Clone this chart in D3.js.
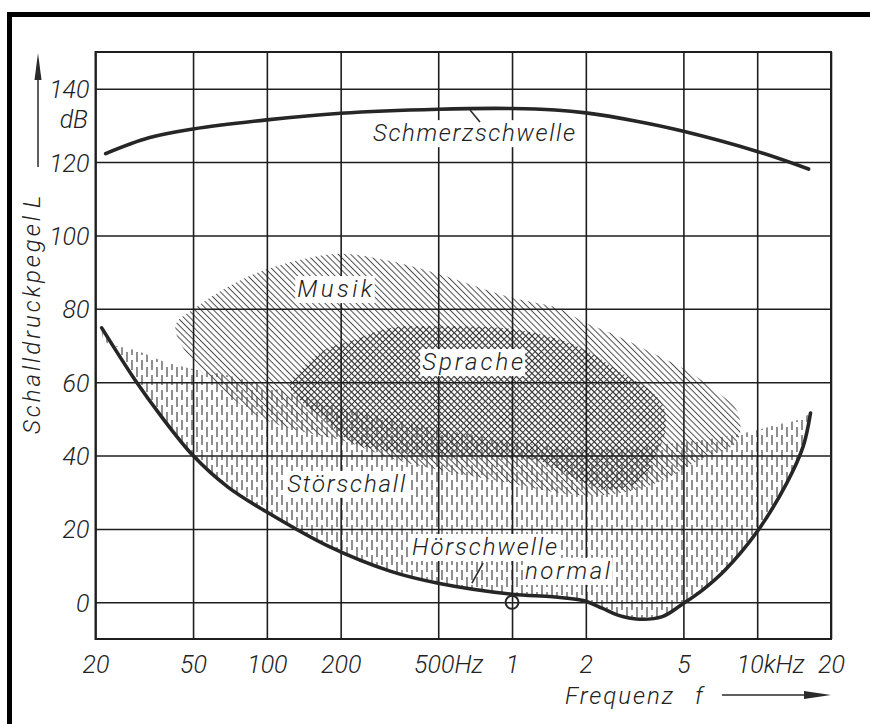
<!DOCTYPE html>
<html>
<head>
<meta charset="utf-8">
<script src="https://cdn.jsdelivr.net/npm/d3@7"></script>
<style>
  html, body { margin: 0; padding: 0; background: #fff; }
  svg { display: block; }
  .lbl { font-family: Roboto, "Open Sans", sans-serif; font-style: italic; font-weight: 300; fill: #222; }
</style>
</head>
<body>
<svg id="chart" width="870" height="724"></svg>
<script>
// ---------- data ----------
const freqTicks = [20, 50, 100, 200, 500, 1000, 2000, 5000, 10000, 20000];
const freqTickLabels = ["20", "50", "100", "200", "500Hz", "1", "2", "5", "10kHz", "20"];
const levelTicks = [0, 20, 40, 60, 80, 100, 120, 140];
const levelTickLabels = ["0", "20", "40", "60", "80", "100", "120", "140"];

// Schmerzschwelle (pain threshold)
const painFreq  = [22, 33, 50, 100, 200, 500, 1000, 1500, 2000, 3180, 5000, 10000, 16200];
const painLevel = [122.3, 126.6, 129, 131.5, 133.3, 134.4, 134.6, 134.2, 133.4, 131.2, 128.4, 122.9, 118.1];

// Hörschwelle normal (hearing threshold)
const hearFreq  = [21.2, 29, 36.7, 50, 69.4, 100, 178, 318, 500, 1000, 1460, 1950, 2330, 2700, 3300, 4100, 4900, 6000, 7400, 10000, 13200, 15400, 16500];
const hearLevel = [74.8, 60.6, 51.1, 40, 31.4, 24.6, 15.3, 8.5, 5.2, 2.2, 1.5, 0.5, -1.6, -3.5, -4.6, -3.9, -0.7, 3.4, 8.8, 19.3, 32.5, 42.5, 51.6];

// Störschall upper boundary
const noiseTopFreq  = [21.8, 29.8, 37.4, 47.7, 70.8, 137, 350, 1000, 2300, 5350, 8550, 12400, 15000];
const noiseTopLevel = [71.2, 68.5, 65.8, 63.9, 61.7, 56.2, 49.4, 43.9, 41.8, 43.9, 45.9, 48.6, 50];

// Musik region outline
const musicFreq  = [42.4, 50.9, 81.5, 130, 200, 318, 500, 1000, 1530, 2030, 2590, 3730, 5350, 6620, 8300,
                    8300, 5870, 4220, 3040, 1900, 895, 350, 208, 136.8, 95.6, 70.8, 49.5];
const musicLevel = [75.3, 80.2, 88.4, 93, 95, 93, 89.5, 83, 80.2, 75.9, 73.1, 68, 62.5, 58.1, 52.1,
                    43.9, 39, 33.6, 30.3, 29.2, 33, 38.5, 43.9, 46.7, 50.2, 56.2, 65.8];

// Sprache region outline
const speechFreq  = [124, 150, 178, 219, 318, 500, 1000, 1530, 2030, 2850, 3560, 4140, 4220, 3850, 3340, 2520, 1900, 1300, 740, 350, 219, 165, 137];
const speechLevel = [59, 65.8, 69.3, 71.2, 74.8, 75.3, 74.5, 71.8, 68.5, 62.2, 58.4, 53.5, 46.7, 39.8, 33, 30.8, 33, 38.5, 39.8, 40.7, 43.9, 50.8, 54.9];

// text annotations (anchor in data coordinates)
const annoText  = ["Schmerzschwelle", "Musik", "Sprache", "Störschall", "Hörschwelle", "normal"];
const annoFreq  = [271, 133, 430, 121, 391, 1129];
const annoLevel = [125.7, 83.2, 63.3, 30.1, 12.9, 6.4];
const annoWidth = [202, 75, 101, 118, 145, 85];

// leader lines [f1, L1, f2, L2]
const leaderPain = [674, 134.2, 740, 130.9];
const leaderHear = [762, 10.7, 686, 5.2];
const refPoint = [1000, 0];

// ---------- layout ----------
const svg = d3.select("#chart");
const pL = 95.5, pR = 831, pT = 52, pB = 639;
const x = d3.scaleLog().domain([20, 20000]).range([pL, pR]);
const y = d3.scaleLinear().domain([-10, 150]).range([pB, pT]);
const W = pR - pL, H = pB - pT;

svg.append("rect").attr("width", 870).attr("height", 724).attr("fill", "#fff");

// heavy outer frame (top & left visible)
svg.append("rect").attr("x", 9.5).attr("y", 14.5).attr("width", 1000).attr("height", 1000)
  .attr("fill", "none").attr("stroke", "#000").attr("stroke-width", 5);

// patterns
const defs = svg.append("defs");
const pd = defs.append("pattern").attr("id", "dash").attr("patternUnits", "userSpaceOnUse")
  .attr("width", 10).attr("height", 15);
pd.append("line").attr("x1", 2).attr("x2", 2).attr("y1", 0).attr("y2", 10).attr("stroke", "#444").attr("stroke-width", 1.2);
pd.append("line").attr("x1", 7).attr("x2", 7).attr("y1", 7).attr("y2", 15).attr("stroke", "#444").attr("stroke-width", 1.2);
pd.append("line").attr("x1", 7).attr("x2", 7).attr("y1", 0).attr("y2", 2).attr("stroke", "#444").attr("stroke-width", 1.2);

const sp = 4.4;
const pm = defs.append("pattern").attr("id", "diag").attr("patternUnits", "userSpaceOnUse")
  .attr("width", sp).attr("height", sp).attr("patternTransform", "rotate(45)");
pm.append("line").attr("x1", 0).attr("x2", sp).attr("y1", sp / 2).attr("y2", sp / 2).attr("stroke", "#4a4a4a").attr("stroke-width", 1);

const pc = defs.append("pattern").attr("id", "cross").attr("patternUnits", "userSpaceOnUse")
  .attr("width", sp).attr("height", sp).attr("patternTransform", "rotate(45)");
pc.append("line").attr("x1", 0).attr("x2", sp).attr("y1", sp / 2).attr("y2", sp / 2).attr("stroke", "#3a3a3a").attr("stroke-width", 1);
pc.append("line").attr("y1", 0).attr("y2", sp).attr("x1", sp / 2).attr("x2", sp / 2).attr("stroke", "#3a3a3a").attr("stroke-width", 1);

const pts = (fs, ls) => fs.map((f, i) => [x(f), y(ls[i])]);
const smooth = d3.line().curve(d3.curveCatmullRom.alpha(0.5));

// Störschall region
const hearPts = pts(hearFreq, hearLevel);
const upper = [hearPts[hearPts.length - 1]].concat(pts(noiseTopFreq, noiseTopLevel).reverse(), [hearPts[0]]);
const upperPath = smooth(upper);
svg.append("path").attr("d", smooth(hearPts) + "L" + upperPath.slice(1) + "Z")
  .attr("fill", "url(#dash)");

// Musik region
const closed = d3.line().curve(d3.curveCatmullRomClosed.alpha(0.5));
svg.append("path").attr("d", closed(pts(musicFreq, musicLevel))).attr("fill", "url(#diag)");
// Sprache region
svg.append("path").attr("d", closed(pts(speechFreq, speechLevel))).attr("fill", "url(#cross)");

// grid via axes
const gx = svg.append("g").attr("transform", `translate(0,${pB})`)
  .call(d3.axisBottom(x).tickValues(freqTicks).tickSize(-H).tickPadding(16)
    .tickFormat((d, i) => freqTickLabels[i]));
const gy = svg.append("g").attr("transform", `translate(${pL},0)`)
  .call(d3.axisLeft(y).tickValues(levelTicks).tickSize(-W).tickPadding(6)
    .tickFormat((d, i) => levelTickLabels[i]));
[gx, gy].forEach(g => {
  g.select(".domain").remove();
  g.selectAll(".tick line").attr("stroke", "#1e1e1e").attr("stroke-width", 1.6);
  g.selectAll(".tick text").attr("class", "lbl").attr("font-size", 25).attr("fill", "#222");
});
gx.selectAll(".tick text").attr("dx", (d, i) => freqTickLabels[i] === "500Hz" ? 10 : (freqTickLabels[i] === "10kHz" ? 13 : 0));
gy.selectAll(".tick text").attr("dy", "0.36em");

// plot frame
svg.append("rect").attr("x", pL).attr("y", pT).attr("width", W).attr("height", H)
  .attr("fill", "none").attr("stroke", "#1e1e1e").attr("stroke-width", 2);

// curves
svg.append("path").attr("d", smooth(pts(painFreq, painLevel)))
  .attr("fill", "none").attr("stroke", "#262626").attr("stroke-width", 3.6).attr("stroke-linecap", "round");
svg.append("path").attr("d", smooth(hearPts))
  .attr("fill", "none").attr("stroke", "#262626").attr("stroke-width", 3.6).attr("stroke-linecap", "round");

// annotations with knocked-out background
annoText.forEach((t, i) => {
  const g = svg.append("g");
  const bg = g.append("rect").attr("fill", "#fff");
  const tx = g.append("text").attr("class", "lbl").attr("font-size", 24)
    .attr("x", x(annoFreq[i])).attr("y", y(annoLevel[i]))
    .attr("textLength", annoWidth[i]).attr("lengthAdjust", "spacing").text(t);
  const b = tx.node().getBBox();
  bg.attr("x", b.x - 2).attr("y", b.y + 1).attr("width", b.width + 4).attr("height", b.height - 1);
});

// leader lines
[leaderPain, leaderHear].forEach(l => {
  svg.append("line").attr("x1", x(l[0])).attr("y1", y(l[1])).attr("x2", x(l[2])).attr("y2", y(l[3]))
    .attr("stroke", "#2a2a2a").attr("stroke-width", 1.6);
});

// reference point 1 kHz / 0 dB
svg.append("circle").attr("cx", x(refPoint[0])).attr("cy", y(refPoint[1])).attr("r", 6.5)
  .attr("fill", "none").attr("stroke", "#262626").attr("stroke-width", 2);

// axis titles and arrows
svg.append("text").attr("class", "lbl").attr("font-size", 25).attr("text-anchor", "end")
  .attr("x", 88).attr("y", 128).text("dB");
svg.append("text").attr("class", "lbl").attr("font-size", 24)
  .attr("transform", "translate(40,434) rotate(-90)")
  .attr("textLength", 218).attr("lengthAdjust", "spacing").text("Schalldruckpegel");
svg.append("text").attr("class", "lbl").attr("font-size", 24)
  .attr("transform", "translate(40,208) rotate(-90)").text("L");
svg.append("line").attr("x1", 38).attr("x2", 38).attr("y1", 167).attr("y2", 70)
  .attr("stroke", "#2a2a2a").attr("stroke-width", 1.5);
svg.append("path").attr("d", "M38,53 L34.5,80 L41.5,80 Z").attr("fill", "#2a2a2a");

svg.append("text").attr("class", "lbl").attr("font-size", 24)
  .attr("x", 565).attr("y", 704).attr("textLength", 108).attr("lengthAdjust", "spacing").text("Frequenz");
svg.append("text").attr("class", "lbl").attr("font-size", 24)
  .attr("x", 695).attr("y", 704).text("f");
svg.append("line").attr("x1", 722).attr("x2", 808).attr("y1", 695).attr("y2", 695)
  .attr("stroke", "#2a2a2a").attr("stroke-width", 1.5);
svg.append("path").attr("d", "M831,695 L804,691 L804,699 Z").attr("fill", "#2a2a2a");
</script>
</body>
</html>
